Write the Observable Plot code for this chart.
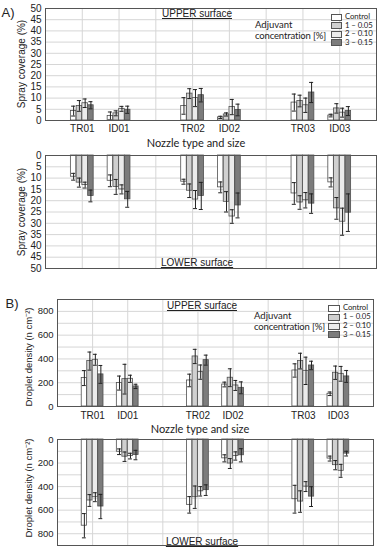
<!DOCTYPE html>
<html><head><meta charset="utf-8">
<script src="https://cdn.jsdelivr.net/npm/d3@7"></script>
<script src="https://cdn.jsdelivr.net/npm/@observablehq/plot@0.6"></script>
<style>
body{margin:0;background:#fff;}
#fig{position:relative;width:380px;height:550px;overflow:hidden;font-family:"Liberation Sans",Arial,sans-serif;color:#222;}
.panel{position:absolute;left:0;}
.c{position:absolute;white-space:nowrap;transform:translate(-50%,-50%);line-height:1;}
.l{position:absolute;white-space:nowrap;transform:translate(0,-50%);line-height:1;}
.ylab{position:absolute;white-space:nowrap;transform:translate(-50%,-50%) rotate(-90deg);line-height:1;}
.sw{position:absolute;box-sizing:border-box;border:1px solid #555;}
.cal{font-family:Lato,"Open Sans",sans-serif;}
</style>
</head><body>
<div id="fig"></div>
<script>
// ---- data ----
const nozzles = ["TR01", "ID01", "TR02", "ID02", "TR03", "ID03"];
const nozzlePos = [1, 2, 4, 5, 7, 8];
const gridPositions = [1, 2, 3, 4, 5, 6, 7, 8];
const concentrations = ["Control", "1 – 0.05", "2 – 0.10", "3 – 0.15"];
const fills = ["#ffffff", "#d0d0d0", "#ebebeb", "#7c7c7c"];

// Spray coverage (%) – upper surface: rows = nozzles, cols = concentrations
const coverageUpper = [[4.2,6.5,7.7,6.8],[2.0,3.2,5.2,4.8],[6.5,12.0,10.0,11.3],[1.4,2.7,6.0,4.7],[8.0,8.7,6.8,12.5],[2.2,5.4,3.5,4.2]];
const coverageUpperErr = [[2.2,2.4,1.9,1.6],[1.8,1.1,1.1,1.6],[3.7,2.2,3.8,3.0],[0.5,0.7,3.4,2.6],[3.8,2.6,3.2,4.5],[0.6,2.1,2.0,2.0]];
// Spray coverage (%) – lower surface
const coverageLower = [[9.4,12.0,13.1,17.9],[11.2,13.9,15.0,19.4],[11.6,15.6,19.5,17.9],[14.1,20.5,27.0,22.1],[16.8,20.8,19.8,21.3],[11.9,23.4,29.3,25.3]];
const coverageLowerErr = [[1.5,2.0,1.3,2.6],[2.6,3.3,2.0,3.5],[1.1,3.0,4.0,6.0],[2.4,4.5,3.0,5.5],[4.8,3.0,3.4,4.3],[2.0,4.8,6.0,8.3]];
// Droplet density (n cm-2) – upper surface
const densityUpper = [[239,382,393,270],[197,230,233,169],[219,421,289,390],[185,242,177,157],[303,382,300,345],[107,284,275,253]];
const densityUpperErr = [[63,76,46,75],[59,125,30,18],[53,60,60,42],[20,75,42,50],[56,66,115,36],[15,56,62,50]];
// Droplet density (n cm-2) – lower surface
const densityLower = [[732,518,490,569],[104,146,141,132],[555,490,440,430],[160,204,140,134],[507,527,400,485],[162,218,266,120]];
const densityLowerErr = [[103,50,38,103],[24,40,24,40],[70,95,40,45],[30,42,35,56],[118,91,42,84],[21,39,55,20]];

const coverageTicks = [0,5,10,15,20,25,30,35,40,45,50];
const densityTicks = [0,200,400,600,800];
const densityGrid = [100,200,300,400,500,600,700,800];

// ---- drawing ----
const barOffsets = [-0.235, -0.078, 0.078, 0.235];
const barWidth = 0.15;
const capHalf = 0.055;

function makePanel(o) {
  const data = [];
  nozzles.forEach((n, i) => concentrations.forEach((c, k) =>
    data.push({nozzle: n, pos: nozzlePos[i], conc: c, k, v: o.values[i][k], e: o.errors[i][k]})));
  const cx = d => d.pos + barOffsets[d.k];
  return Plot.plot({
    width: 380, height: o.height,
    marginTop: o.mt, marginBottom: o.mb, marginLeft: o.ml, marginRight: o.mr,
    style: {fontFamily: '"Liberation Sans", Arial, sans-serif', fontSize: "10px", color: "#222", background: "transparent", overflow: "visible"},
    x: {domain: [0, 9], axis: null},
    y: {domain: o.domain, reverse: o.reverse, axis: null},
    color: {domain: concentrations, range: fills},
    marks: [
      Plot.ruleX(gridPositions, {stroke: "#d6d6d6"}),
      Plot.ruleY(o.grid, {stroke: "#d6d6d6"}),
      Plot.rect(data, {x1: d => cx(d) - barWidth / 2, x2: d => cx(d) + barWidth / 2, y1: 0, y2: "v", fill: "conc", stroke: "#505050", strokeWidth: 0.8}),
      Plot.ruleX(data, {x: cx, y1: d => d.v - d.e, y2: d => d.v + d.e, stroke: "#222", strokeWidth: 1}),
      Plot.ruleY(data, {y: d => d.v + d.e, x1: d => cx(d) - capHalf, x2: d => cx(d) + capHalf, stroke: "#222"}),
      Plot.ruleY(data, {y: d => d.v - d.e, x1: d => cx(d) - capHalf, x2: d => cx(d) + capHalf, stroke: "#222"}),
      Plot.axisY({ticks: o.ticks, tickSize: 0, tickPadding: 4, label: null, fontSize: o.tickFont}),
      o.xAxis ? Plot.axisX({ticks: nozzlePos, tickFormat: p => nozzles[nozzlePos.indexOf(p)], tickSize: 0, tickPadding: o.xPad, label: null, fontSize: 10}) : null,
      Plot.frame({stroke: "#555"})
    ]
  });
}

const fig = document.getElementById("fig");
function place(svg, top) { svg.classList.add("panel"); svg.style.top = top + "px"; fig.appendChild(svg); }

place(makePanel({values: coverageUpper, errors: coverageUpperErr, domain: [0, 50], reverse: false, ticks: coverageTicks, grid: coverageTicks,
  height: 136, mt: 8, mb: 16, ml: 45, mr: 4, xAxis: true, xPad: 4, tickFont: 10}), 0);
place(makePanel({values: coverageLower, errors: coverageLowerErr, domain: [0, 50], reverse: true, ticks: coverageTicks, grid: coverageTicks,
  height: 125, mt: 10, mb: 2, ml: 45, mr: 4, xAxis: false, tickFont: 10}), 145);
place(makePanel({values: densityUpper, errors: densityUpperErr, domain: [0, 900], reverse: false, ticks: densityTicks, grid: densityGrid,
  height: 132, mt: 9, mb: 16, ml: 57, mr: 7, xAxis: true, xPad: 5, tickFont: 9.5}), 290);
place(makePanel({values: densityLower, errors: densityLowerErr, domain: [0, 900], reverse: true, ticks: densityTicks, grid: densityGrid,
  height: 118, mt: 7, mb: 5, ml: 57, mr: 7, xAxis: false, tickFont: 9.5}), 432);

// ---- text & legends ----
function txt(cls, x, y, s, style) {
  const d = document.createElement("div");
  d.className = cls; d.style.left = x + "px"; d.style.top = y + "px";
  d.textContent = s; if (style) d.style.cssText += style; fig.appendChild(d); return d;
}
txt("c", 8, 12, "A)", "font-size:13px;");
txt("c", 12, 303, "B)", "font-size:13px;");
txt("c", 197, 14, "UPPER surface", "font-size:10px;text-decoration:underline;");
txt("c", 197, 263, "LOWER surface", "font-size:10px;text-decoration:underline;");
txt("c", 202, 306, "UPPER surface", "font-size:10px;text-decoration:underline;");
txt("c", 202, 542, "LOWER surface", "font-size:10px;text-decoration:underline;");
txt("c cal", 196, 142, "Nozzle type and size", "font-size:11px;");
txt("c cal", 200, 428, "Nozzle type and size", "font-size:11px;");
txt("ylab", 22, 64, "Spray coverage (%)", "font-size:10px;");
txt("ylab", 22, 212, "Spray coverage (%)", "font-size:10px;");
txt("ylab", 29, 357, "Droplet density (n cm⁻²)", "font-size:9.5px;");
txt("ylab", 29, 488, "Droplet density (n cm⁻²)", "font-size:9.5px;");

function legend(titleX, titleY1, titleY2, boxX, boxW, rows, textX) {
  txt("l cal", titleX, titleY1, "Adjuvant", "font-size:9.5px;");
  txt("l cal", titleX, titleY2, "concentration [%]", "font-size:9.5px;letter-spacing:-0.15px;");
  concentrations.forEach((c, k) => {
    const b = document.createElement("div");
    b.className = "sw";
    b.style.cssText += `left:${boxX}px;top:${rows[k] - 3.5}px;width:${boxW}px;height:7px;background:${fills[k]};`;
    fig.appendChild(b);
    txt("l cal", textX, rows[k], c, "font-size:7.8px;letter-spacing:-0.1px;");
  });
}
legend(255, 25, 36, 331, 11, [17, 25.5, 34, 42.5], 345);
legend(254, 316, 327, 328, 12, [308, 317, 326, 334.5], 343);
</script>
</body></html>
